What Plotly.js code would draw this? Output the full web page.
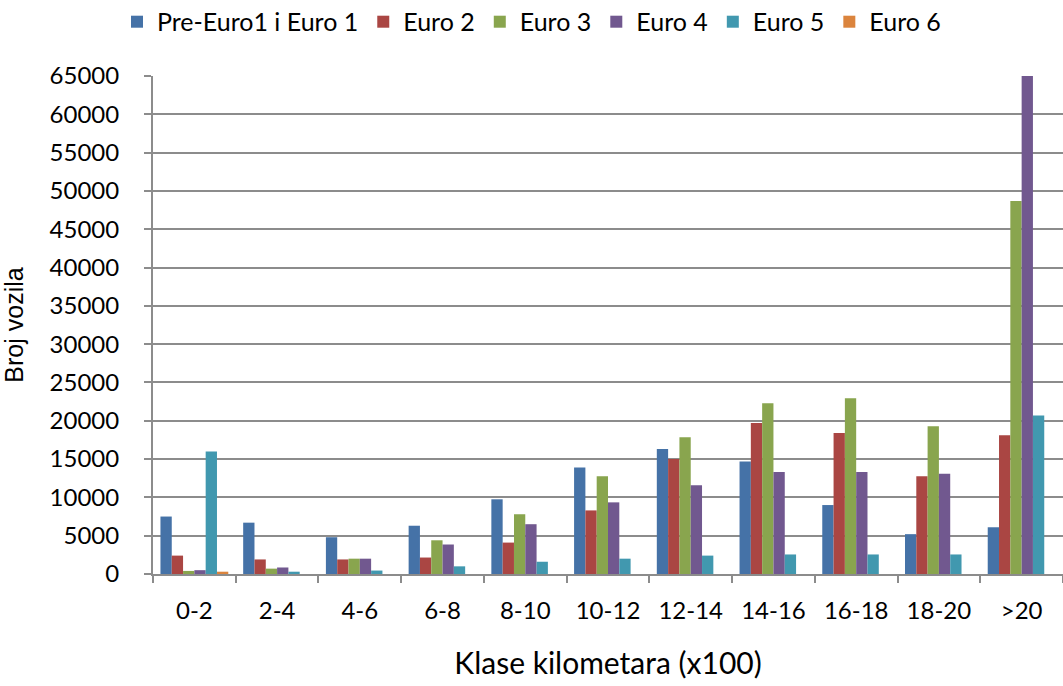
<!DOCTYPE html>
<html><head><meta charset="utf-8">
<script src="https://cdn.plot.ly/plotly-3.0.1.min.js"></script>
<style>body{margin:0;background:#fff}#c{width:1063px;height:686px}</style>
</head><body><div id="c"></div>
<script>
const categories = ["0-2","2-4","4-6","6-8","8-10","10-12","12-14","14-16","16-18","18-20",">20"];
const seriesNames = ["Pre-Euro1 i Euro 1","Euro 2","Euro 3","Euro 4","Euro 5","Euro 6"];
const preEuro1 = [7500,6700,4800,6300,9750,13900,16300,14700,9000,5200,6100];
const euro2 = [2400,1900,1900,2150,4100,8300,15000,19700,18400,12750,18100];
const euro3 = [400,700,2000,4400,7800,12750,17850,22300,22950,19300,48700];
const euro4 = [500,850,2000,3850,6500,9350,11600,13300,13300,13100,65000];
const euro5 = [16000,300,450,1000,1600,2000,2400,2550,2550,2550,20700];
const euro6 = [300,0,0,0,0,0,0,0,0,0,0];
const yTicks = [0,5000,10000,15000,20000,25000,30000,35000,40000,45000,50000,55000,60000,65000];
const colors = ["#4572A7","#AA4643","#89A54E","#71588F","#4198AF","#DB843D"];
const allSeries = [preEuro1,euro2,euro3,euro4,euro5,euro6];

const traces = allSeries.map((v,i)=>({
  type:"bar", name:seriesNames[i], x:categories, y:v,
  marker:{color:colors[i], line:{width:0}}
}));
const font = "Lato, 'Open Sans', sans-serif";
Plotly.newPlot("c", traces, {
  width:1063, height:686,
  margin:{l:153,r:0,t:76,b:112, autoexpand:false},
  paper_bgcolor:"#fff", plot_bgcolor:"#fff",
  font:{family:font,size:24,color:"#000"},
  barmode:"group", bargap:0.18, bargroupgap:0,
  showlegend:true,
  legend:{orientation:"h", x:0.5, xref:"container", xanchor:"center",
    y:0.968, yref:"container", yanchor:"middle",
    font:{size:25}, itemwidth:30, traceorder:"normal", itemclick:false},
  xaxis:{type:"category", tickson:"boundaries", ticks:"outside", ticklen:7,
    tickcolor:"#8c8c8c", tickwidth:2, showline:true, linecolor:"#8c8c8c", linewidth:2,
    showgrid:false, tickfont:{size:24}, ticklabelstandoff:14, automargin:false,
    title:{text:"Klase kilometara (x100)", font:{size:30}, standoff:30}},
  yaxis:{range:[0,65000], tickvals:yTicks, ticktext:yTicks.map(String),
    ticks:"outside", ticklen:7, tickcolor:"#8c8c8c", tickwidth:2,
    showline:true, linecolor:"#8c8c8c", linewidth:2,
    showgrid:true, gridcolor:"#8c8c8c", gridwidth:2, zeroline:false,
    tickfont:{size:24}, ticklabelstandoff:20, automargin:false,
    title:{text:"Broj vozila", font:{size:25, family:"'Liberation Sans', Arial, sans-serif"}, standoff:22}}
}, {displayModeBar:false, staticPlot:true});
</script></body></html>
